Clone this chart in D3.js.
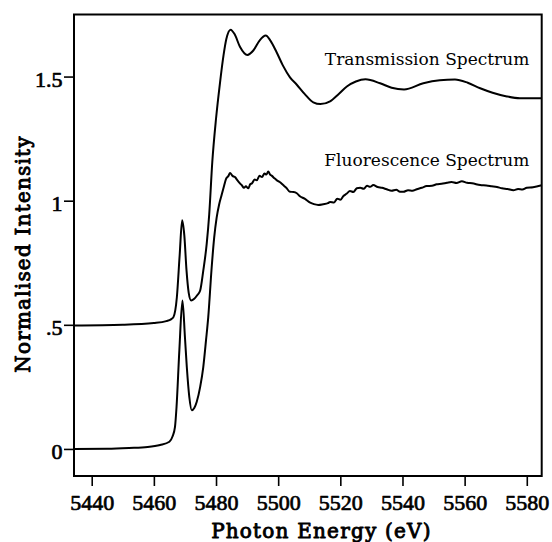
<!DOCTYPE html>
<html>
<head>
<meta charset="utf-8">
<script src="https://cdn.jsdelivr.net/npm/d3@7"></script>
<style>
  body { margin: 0; background: #fff; }
  svg { display: block; }
</style>
</head>
<body>
<svg id="chart" width="552" height="542"></svg>
<script>
// data

let transEnergy = [
    5434.3, 5450, 5460, 5464, 5465.5, 5466.3, 5467.4, 5468.3, 5469.1, 5469.8,
    5470.5, 5471.2, 5472.0, 5473.0, 5474.0, 5474.9, 5475.9, 5477.0, 5477.8, 5478.8,
    5480.0, 5481.3, 5482.4, 5483.3, 5484.7, 5486.0, 5487.7, 5490.1, 5492.0, 5494.0,
    5496.0, 5497.5, 5499.5, 5501.5, 5503.8, 5506.0, 5508.5, 5511.3, 5513.6, 5516.7,
    5519.5, 5522.1, 5525.0, 5528.1, 5532.8, 5536.5, 5540.5, 5546.7, 5552.0, 5556.9,
    5561.0, 5565.0, 5569.0, 5573.6, 5577.8, 5584.8,
];
let transIntensity = [
    0.497, 0.500, 0.507, 0.515, 0.522, 0.531, 0.611, 0.780, 0.921, 0.860,
    0.720, 0.630, 0.598, 0.605, 0.620, 0.638, 0.718, 0.826, 0.943, 1.156,
    1.330, 1.477, 1.584, 1.650, 1.689, 1.670, 1.620, 1.587, 1.605, 1.645,
    1.665, 1.645, 1.598, 1.545, 1.497, 1.467, 1.430, 1.396, 1.389, 1.400,
    1.430, 1.460, 1.480, 1.489, 1.473, 1.455, 1.448, 1.473, 1.485, 1.488,
    1.475, 1.453, 1.435, 1.420, 1.413, 1.413,
];

let fluorEnergy = [
    5434.3, 5445, 5452, 5458, 5462, 5465, 5466, 5466.8, 5467.3, 5468.2,
    5469.2, 5470.0, 5470.6, 5471.4, 5472.2, 5473.0, 5473.8, 5474.9, 5475.9, 5476.8,
    5477.5, 5478.6, 5479.4, 5480.2, 5481.0, 5481.8, 5482.6, 5483.2, 5484.0, 5484.5,
    5485.3, 5486.1, 5486.9, 5487.7, 5488.3, 5489.0, 5489.6, 5490.4, 5491.0, 5491.6,
    5492.4, 5493.1, 5494.0, 5494.8, 5495.6, 5496.2, 5496.8, 5497.4, 5498.0, 5498.8,
    5499.5, 5500.5, 5501.6, 5502.6, 5503.8, 5505.0, 5506.0, 5507.0, 5508.5, 5510.3,
    5511.5, 5512.9, 5514.5, 5516.0, 5516.7, 5518.0, 5519.0, 5520.0, 5521.0, 5522.0,
    5523.1, 5524.2, 5525.3, 5526.4, 5527.5, 5528.6, 5529.6, 5530.6, 5532.0, 5533.4,
    5534.9, 5536.5, 5538.0, 5539.2, 5540.3, 5541.8, 5543.2, 5544.6, 5546.2, 5547.8,
    5549.5, 5551.0, 5552.6, 5554.3, 5555.8, 5557.4, 5559.1, 5560.8, 5562.4, 5565.0,
    5567.0, 5568.7, 5570.4, 5572.0, 5573.8, 5575.7, 5577.2, 5578.6, 5580.0, 5582.0,
    5584.8,
];
let fluorIntensity = [
    0.000, 0.001, 0.004, 0.008, 0.016, 0.029, 0.050, 0.089, 0.170, 0.397,
    0.598, 0.450, 0.330, 0.210, 0.156, 0.165, 0.190, 0.250, 0.330, 0.440,
    0.531, 0.731, 0.850, 0.932, 0.985, 1.023, 1.060, 1.087, 1.100, 1.112,
    1.100, 1.095, 1.082, 1.070, 1.062, 1.052, 1.058, 1.050, 1.066, 1.070,
    1.085, 1.082, 1.100, 1.095, 1.110, 1.105, 1.118, 1.105, 1.100, 1.090,
    1.083, 1.075, 1.063, 1.052, 1.036, 1.035, 1.030, 1.018, 1.008, 0.992,
    0.986, 0.983, 0.986, 0.990, 0.995, 0.993, 1.008, 1.004, 1.019, 1.028,
    1.039, 1.035, 1.050, 1.052, 1.048, 1.060, 1.056, 1.063, 1.055, 1.052,
    1.046, 1.040, 1.044, 1.036, 1.036, 1.042, 1.040, 1.046, 1.052, 1.059,
    1.060, 1.066, 1.068, 1.072, 1.075, 1.071, 1.078, 1.072, 1.070, 1.063,
    1.061, 1.058, 1.055, 1.050, 1.047, 1.042, 1.047, 1.045, 1.052, 1.054,
    1.062,
];

let xTicks = [5440, 5460, 5480, 5500, 5520, 5540, 5560, 5580];
let yTicks = [0, 0.5, 1, 1.5];
let yTickLabels = ['0', '.5', '1', '1.5'];

let seriesNames = ['Transmission Spectrum', 'Fluorescence Spectrum'];
let seriesLabelAt = [1.545, 1.14];   // intensity level where each name sits

// layout

let plotLeft = 74, plotRight = 541.7, plotTop = 14.5, plotBottom = 476;

let x = d3.scaleLinear()
    .domain([5434.3, 5584.8])
    .range([plotLeft, plotRight]);

let y = d3.scaleLinear()
    .domain([-0.109, 1.75])
    .range([plotBottom, plotTop]);

let svg = d3.select('#chart');

// serif faces, regular weight thickened with a stroke where the print is bold
function face(sel, family, size, w) {
    sel.attr('font-family', family)
        .attr('font-size', size)
        .attr('font-weight', 'normal')
        .style('font-family', family)
        .attr('fill', '#000');
    if (w) {
        sel.attr('stroke', '#000')
            .attr('stroke-width', w)
            .attr('stroke-linejoin', 'round');
    }
}

// curves

let line = d3.line()
    .x((d) => x(d[0]))
    .y((d) => y(d[1]))
    .curve(d3.curveMonotoneX);

let series = [
    d3.zip(transEnergy, transIntensity),
    d3.zip(fluorEnergy, fluorIntensity),
];

svg.selectAll('.spectrum')
    .data(series)
    .enter()
    .append('path')
    .classed('spectrum', 1)
    .attr('d', line)
    .attr('fill', 'none')
    .attr('stroke', '#000')
    .attr('stroke-width', 2)
    .attr('stroke-linejoin', 'round');

// frame

svg.append('rect')
    .attr('x', plotLeft)
    .attr('y', plotTop)
    .attr('width', plotRight - plotLeft)
    .attr('height', plotBottom - plotTop)
    .attr('fill', 'none')
    .attr('stroke', '#000')
    .attr('stroke-width', 2);

// axes

let xAxis = svg.append('g')
    .attr('transform', `translate(0,${plotBottom})`)
    .call(d3.axisBottom(x)
        .tickValues(xTicks)
        .tickSize(10)
        .tickFormat(d3.format('d')));

let yAxis = svg.append('g')
    .attr('transform', `translate(${plotLeft},0)`)
    .call(d3.axisLeft(y)
        .tickValues(yTicks)
        .tickSize(10)
        .tickPadding(1.5)
        .tickFormat((d, i) => yTickLabels[i]));

svg.selectAll('.domain').remove();
svg.selectAll('.tick line')
    .attr('stroke', '#000')
    .attr('stroke-width', 1.6);

xAxis.selectAll('text')
    .attr('y', 34)
    .attr('dy', 0);
yAxis.selectAll('text')
    .attr('dy', '0.45em');

xAxis.attr('font-family', 'Liberation Serif');
yAxis.attr('font-family', 'Liberation Serif');
svg.selectAll('.tick text')
    .call(face, 'Liberation Serif', 22, 0.7);

// axis titles

svg.append('text')
    .attr('x', 321.4)
    .attr('y', 538)
    .attr('text-anchor', 'middle')
    .attr('letter-spacing', 1.2)
    .call(face, 'DejaVu Serif', 20, 0.9)
    .text('Photon Energy (eV)');

svg.append('text')
    .attr('transform', 'translate(30,254) rotate(-90)')
    .attr('text-anchor', 'middle')
    .attr('letter-spacing', 1.2)
    .call(face, 'DejaVu Serif', 20, 0.9)
    .text('Normalised Intensity');

// series names

svg.selectAll('.name')
    .data(seriesNames)
    .enter()
    .append('text')
    .classed('name', 1)
    .attr('x', 529.3)
    .attr('y', (d, i) => y(seriesLabelAt[i]))
    .attr('text-anchor', 'end')
    .call(face, 'DejaVu Serif', 17, 0)
    .text((d) => d);
</script>
</body>
</html>
